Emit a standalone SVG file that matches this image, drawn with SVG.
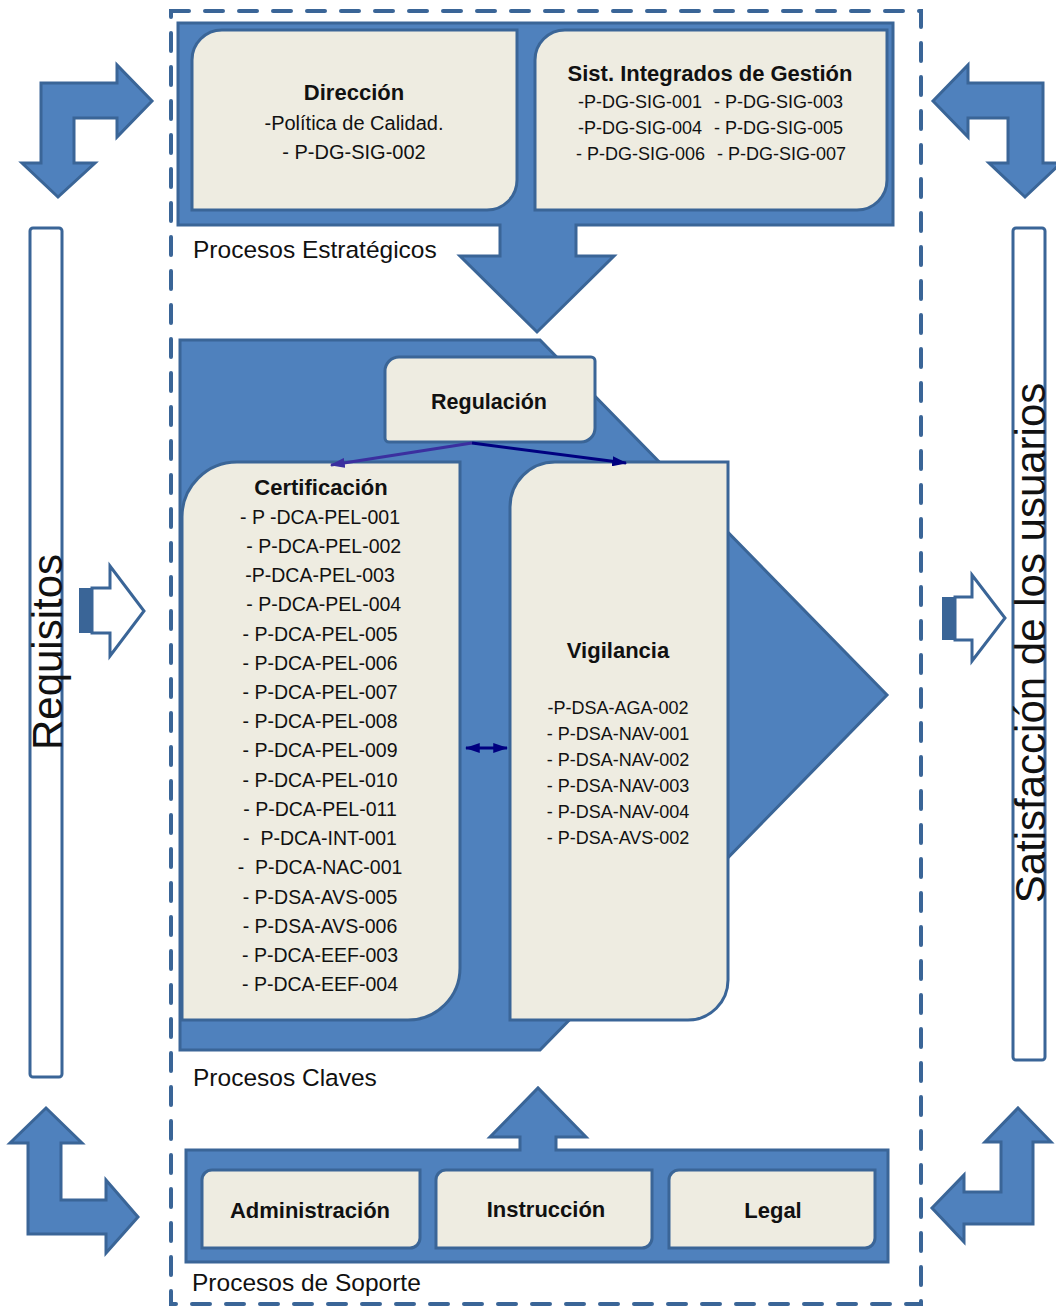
<svg xmlns="http://www.w3.org/2000/svg" width="1056" height="1308" viewBox="0 0 1056 1308">
<style>
.blue{fill:#4F81BD;stroke:#3A6597;stroke-width:3;stroke-linejoin:miter}
.box{fill:#EEECE1;stroke:#3A6597;stroke-width:3}
.hollow{fill:#FFFFFF;stroke:#3A6597;stroke-width:3}
.stripe{fill:#3A6597}
.bar{fill:#FFFFFF;stroke:#3A6597;stroke-width:3}
.dash{fill:none;stroke:#3A6597;stroke-width:4;stroke-dasharray:18 16;stroke-linecap:round}
text{font-family:"Liberation Sans",Arial,sans-serif;fill:#111111}
.t{font-weight:bold;text-anchor:middle}
.c{text-anchor:middle;white-space:pre}
.lbl{font-size:24.5px}
.big{font-size:42px;text-anchor:middle}
.lst{font-size:19.5px}
.vl{font-size:18px}
.sg{font-size:18px;white-space:pre}
</style>
<defs>
<marker id="hNavy" viewBox="0 0 12 8" refX="11" refY="4" markerWidth="5" markerHeight="3.4" orient="auto-start-reverse"><path d="M0,0 L12,4 L0,8 z" fill="#000080"/></marker>
<marker id="hPurp" viewBox="0 0 12 8" refX="11" refY="4" markerWidth="5" markerHeight="3.4" orient="auto"><path d="M0,0 L12,4 L0,8 z" fill="#3B2F9F"/></marker>
</defs>

<!-- outer dashed boundary -->
<path id="boundary" class="dash" d="M171,11 H921 V1304 H171 Z"/>

<!-- side bars -->
<g id="requisitos">
<rect class="bar" x="30" y="228" width="32" height="849" rx="3"/>
<text class="big" transform="translate(62,652) rotate(-90)">Requisitos</text>
</g>
<g id="satisfaccion">
<rect class="bar" x="1013" y="228" width="32" height="832" rx="3"/>
<text class="big" transform="translate(1045,643) rotate(-90)">Satisfacción de los usuarios</text>
</g>

<!-- corner bent arrows -->
<g id="arrow-tl"><path class="blue" d="M41,83 H117 V65 L152,101 L117,137 V118 H74 V163 H95 L58,197 L22,163 H41 Z"/></g>
<g id="arrow-tr"><path class="blue" d="M1043,83 H968 V65 L933,101 L968,137 V118 H1008 V163 H989 L1025,197 L1061,163 H1043 Z"/></g>
<g id="arrow-bl"><path class="blue" d="M46,1108 L82,1143 H61 V1200 H106 V1180 L138,1217 L106,1253 V1234 H28 V1143 H10 Z"/></g>
<g id="arrow-br"><path class="blue" d="M1018,1108 L1051,1142 H1033 V1224 H964 V1242 L932,1208 L964,1175 V1192 H1001 V1142 H985 Z"/></g>

<!-- hollow striped arrows -->
<g id="in-arrow">
<rect class="stripe" x="79" y="588" width="13" height="45"/>
<path class="hollow" d="M92,588 H110 V566 L144,611 L110,656 V633 H92 Z"/>
</g>
<g id="out-arrow">
<rect class="stripe" x="942" y="597" width="13" height="43"/>
<path class="hollow" d="M955,597 H972 V575 L1005,618 L972,661 V640 H955 Z"/>
</g>

<!-- Strategic processes -->
<g id="estrategicos">
<path class="blue" d="M178,23 H893 V225 H576 V256 H614 L537,332 L460,256 H500 V225 H178 Z"/>
<text class="lbl" x="193" y="258">Procesos Estratégicos</text>
</g>
<g id="direccion">
<path class="box" d="M222,30 H517 V180 A30,30 0 0 1 487,210 H192 V60 A30,30 0 0 1 222,30 Z"/>
<text class="t" x="354" y="100" font-size="22">Dirección</text>
<text class="c" x="354" y="130" font-size="20">-Política de Calidad.</text>
<text class="c" x="354" y="159" font-size="20">- P-DG-SIG-002</text>
</g>
<g id="sig">
<path class="box" d="M565,30 H887 V180 A30,30 0 0 1 857,210 H535 V60 A30,30 0 0 1 565,30 Z"/>
<text class="t" x="710" y="81" font-size="22">Sist. Integrados de Gestión</text>
<text class="sg" x="578" y="108">-P-DG-SIG-001</text>
<text class="sg" x="714" y="108">- P-DG-SIG-003</text>
<text class="sg" x="578" y="134">-P-DG-SIG-004</text>
<text class="sg" x="714" y="134">- P-DG-SIG-005</text>
<text class="sg" x="576" y="160">- P-DG-SIG-006</text>
<text class="sg" x="717" y="160">- P-DG-SIG-007</text>
</g>

<!-- Key processes -->
<g id="claves">
<path class="blue" d="M180,340 H540 L887,695 L540,1050 H180 Z"/>
<text class="lbl" x="193" y="1086">Procesos Claves</text>
</g>
<g id="regulacion">
<path class="box" d="M399,357 H591 A4,4 0 0 1 595,361 V428 A14,14 0 0 1 581,442 H389 A4,4 0 0 1 385,438 V371 A14,14 0 0 1 399,357 Z"/>
<text class="t" x="489" y="409" font-size="21.5">Regulación</text>
</g>
<g id="certificacion">
<path class="box" d="M237,462 H460 V968 A52,52 0 0 1 408,1020 H182 V517 A55,55 0 0 1 237,462 Z"/>
<text class="t" x="321" y="495" font-size="22">Certificación</text>
<g class="lst">
<text class="c" x="320" y="524">- P -DCA-PEL-001</text>
<text class="c" x="321" y="553"> - P-DCA-PEL-002</text>
<text class="c" x="320" y="582">-P-DCA-PEL-003</text>
<text class="c" x="321" y="611"> - P-DCA-PEL-004</text>
<text class="c" x="320" y="641">- P-DCA-PEL-005</text>
<text class="c" x="320" y="670">- P-DCA-PEL-006</text>
<text class="c" x="320" y="699">- P-DCA-PEL-007</text>
<text class="c" x="320" y="728">- P-DCA-PEL-008</text>
<text class="c" x="320" y="757">- P-DCA-PEL-009</text>
<text class="c" x="320" y="787">- P-DCA-PEL-010</text>
<text class="c" x="320" y="816">- P-DCA-PEL-011</text>
<text class="c" x="320" y="845">-  P-DCA-INT-001</text>
<text class="c" x="320" y="874">-  P-DCA-NAC-001</text>
<text class="c" x="320" y="904">- P-DSA-AVS-005</text>
<text class="c" x="320" y="933">- P-DSA-AVS-006</text>
<text class="c" x="320" y="962">- P-DCA-EEF-003</text>
<text class="c" x="320" y="991">- P-DCA-EEF-004</text>
</g>
</g>
<g id="vigilancia">
<path class="box" d="M555,462 H728 V980 A40,40 0 0 1 688,1020 H510 V507 A45,45 0 0 1 555,462 Z"/>
<text class="t" x="618" y="658" font-size="22">Vigilancia</text>
<g class="vl">
<text class="c" x="618" y="714">-P-DSA-AGA-002</text>
<text class="c" x="618" y="740">- P-DSA-NAV-001</text>
<text class="c" x="618" y="766">- P-DSA-NAV-002</text>
<text class="c" x="618" y="792">- P-DSA-NAV-003</text>
<text class="c" x="618" y="818">- P-DSA-NAV-004</text>
<text class="c" x="618" y="844">- P-DSA-AVS-002</text>
</g>
</g>

<!-- Support processes -->
<g id="soporte">
<path class="blue" d="M186,1150 H520 V1137 H490 L538,1088 L586,1137 H556 V1150 H888 V1262 H186 Z"/>
<text class="lbl" x="192" y="1291">Procesos de Soporte</text>
</g>
<g id="administracion">
<path class="box" d="M212,1170 H420 V1238 A10,10 0 0 1 410,1248 H202 V1180 A10,10 0 0 1 212,1170 Z"/>
<text class="t" x="310" y="1218" font-size="22">Administración</text>
</g>
<g id="instruccion">
<path class="box" d="M446,1170 H652 V1238 A10,10 0 0 1 642,1248 H436 V1180 A10,10 0 0 1 446,1170 Z"/>
<text class="t" x="546" y="1217" font-size="22">Instrucción</text>
</g>
<g id="legal">
<path class="box" d="M679,1170 H875 V1238 A10,10 0 0 1 865,1248 H669 V1180 A10,10 0 0 1 679,1170 Z"/>
<text class="t" x="773" y="1218" font-size="22">Legal</text>
</g>

<!-- connectors -->
<g id="connectors" fill="none" stroke-width="3">
<line x1="472" y1="443" x2="331" y2="465" stroke="#3B2F9F" marker-end="url(#hPurp)"/>
<line x1="472" y1="443" x2="626" y2="463" stroke="#000080" marker-end="url(#hNavy)"/>
<line x1="466" y1="748" x2="507" y2="748" stroke="#000080" marker-start="url(#hNavy)" marker-end="url(#hNavy)"/>
</g>
</svg>
